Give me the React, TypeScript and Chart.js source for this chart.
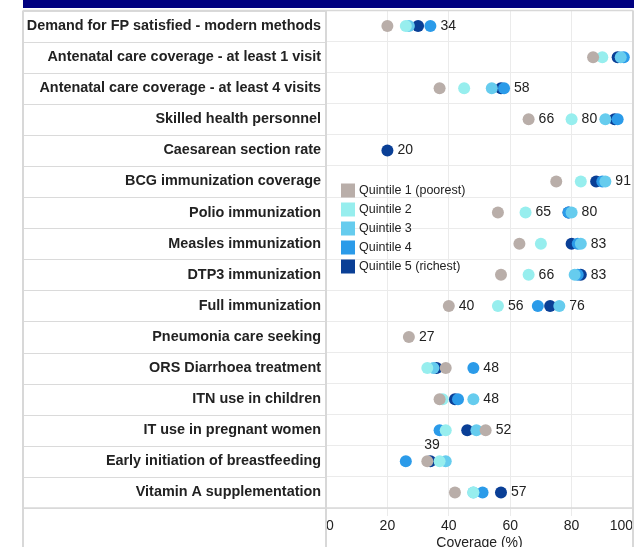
import React, { useEffect, useRef } from "react";
import { Chart, registerables } from "chart.js";

Chart.register(...registerables);

const categories = [
  "Demand for FP satisfied - modern methods",
  "Antenatal care coverage - at least 1 visit",
  "Antenatal care coverage - at least 4 visits",
  "Skilled health personnel",
  "Caesarean section rate",
  "BCG immunization coverage",
  "Polio immunization",
  "Measles immunization",
  "DTP3 immunization",
  "Full immunization",
  "Pneumonia care seeking",
  "ORS Diarrhoea treatment",
  "ITN use in children",
  "IT use in pregnant women",
  "Early initiation of breastfeeding",
  "Vitamin A supplementation",
];

const seriesNames = [
  "Quintile 1 (poorest)",
  "Quintile 2",
  "Quintile 3",
  "Quintile 4",
  "Quintile 5 (richest)",
];

const seriesColors = ["#b9aea9", "#97eeee", "#66ccee", "#2b9be9", "#0a3f96"];

const quintile1 = [20, 87, 37, 66, null, 75, 56, 63, 57, 40, 27, 39, 37, 52, 33, 42];
const quintile2 = [26, 90, 45, 80, null, 83, 65, 70, 66, 56, null, 33, 38, 39, 37, 48];
const quintile3 = [27, 96, 54, 91, null, 91, 80, 83, 81, 76, null, 35, 48, 49, 39, 48];
const quintile4 = [34, 97, 58, 95, null, 90, 79, 82, 82, 69, null, 48, 43, 37, 26, 51];
const quintile5 = [30, 95, 57, 94, 20, 88, 79, 80, 83, 73, null, 36, 42, 46, 34, 57];

const seriesValues = [quintile1, quintile2, quintile3, quintile4, quintile5];

const xTickValues = [0, 20, 40, 60, 80, 100];

// [row index, series index, placement]
const labelledPoints: [number, number, string][] = [
  [0, 3, "right"],
  [2, 3, "right"],
  [3, 0, "right"],
  [3, 1, "right"],
  [4, 4, "right"],
  [5, 2, "right"],
  [6, 1, "right"],
  [6, 2, "right"],
  [7, 2, "right"],
  [8, 1, "right"],
  [8, 4, "right"],
  [9, 0, "right"],
  [9, 1, "right"],
  [9, 2, "right"],
  [10, 0, "right"],
  [11, 3, "right"],
  [12, 2, "right"],
  [13, 0, "right"],
  [14, 2, "above"],
  [15, 4, "right"],
];

const FONT = "Arial, 'Liberation Sans', sans-serif";
const W = 641;
const H = 552;

export default function App() {
  const ref = useRef<HTMLCanvasElement>(null);

  useEffect(() => {
    document.body.style.margin = "0";
    const canvas = ref.current!;

    const decorPlugin = {
      id: "decor",
      beforeDatasetsDraw(chart: any) {
        const ctx = chart.ctx;
        const area = chart.chartArea;
        const yScale = chart.scales.y;
        const panelLeft = area.left - yScale.width + 1;
        const n = categories.length;
        const rowH = (area.bottom - area.top) / n;
        ctx.save();
        // navy top band
        ctx.fillStyle = "#000080";
        ctx.fillRect(panelLeft, 0, area.right + 1 - panelLeft, area.top - 2.5);
        // left panel row lines
        ctx.strokeStyle = "#dadada";
        ctx.lineWidth = 1;
        for (let i = 0; i <= n; i++) {
          const y = Math.round(area.top + i * rowH) + 0.5;
          ctx.beginPath();
          ctx.moveTo(panelLeft, y);
          ctx.lineTo(area.left, y);
          ctx.stroke();
        }
        // vertical borders
        ctx.lineWidth = 2;
        ctx.strokeStyle = "#d8d8d8";
        [panelLeft, area.left, area.right].forEach((x) => {
          ctx.beginPath();
          ctx.moveTo(x, area.top);
          ctx.lineTo(x, chart.height);
          ctx.stroke();
        });
        // top and bottom border
        ctx.lineWidth = 1.5;
        [area.top, area.bottom].forEach((y) => {
          ctx.beginPath();
          ctx.moveTo(panelLeft, y);
          ctx.lineTo(area.right, y);
          ctx.stroke();
        });
        ctx.restore();
      },
      afterDraw(chart: any) {
        const ctx = chart.ctx;
        const area = chart.chartArea;
        ctx.save();
        // value labels
        ctx.font = `14px ${FONT}`;
        ctx.fillStyle = "#222222";
        labelledPoints.forEach(([row, s, place]) => {
          const el = chart.getDatasetMeta(s).data[row];
          const v = seriesValues[s][row];
          if (!el || v == null) return;
          const txt = String(Math.round(v as number));
          if (place === "above") {
            ctx.textAlign = "right";
            ctx.textBaseline = "middle";
            ctx.fillText(txt, el.x - 6, el.y - 16);
          } else {
            ctx.textAlign = "left";
            ctx.textBaseline = "middle";
            ctx.fillText(txt, el.x + 10, el.y);
          }
        });
        // legend
        const lx = area.left + 15;
        const ly = area.top + 173;
        ctx.font = `12.5px ${FONT}`;
        ctx.textAlign = "left";
        ctx.textBaseline = "middle";
        seriesNames.forEach((name, i) => {
          const top = ly + i * 19;
          ctx.fillStyle = seriesColors[i];
          ctx.fillRect(lx, top, 14, 14);
          ctx.fillStyle = "#222222";
          ctx.fillText(name, lx + 18, top + 7.5);
        });
        ctx.restore();
      },
    };

    const chart = new Chart(canvas, {
      type: "line",
      data: {
        labels: categories,
        datasets: seriesNames.map((name, i) => ({
          label: name,
          data: seriesValues[i],
          showLine: false,
          pointRadius: 6,
          pointBorderWidth: 0,
          pointBackgroundColor: seriesColors[i],
          pointBorderColor: seriesColors[i],
          backgroundColor: seriesColors[i],
          borderColor: seriesColors[i],
        })),
      },
      options: {
        indexAxis: "y",
        responsive: false,
        animation: false,
        events: [],
        layout: { padding: { left: 22, top: 10.5, right: 8, bottom: 0 } },
        plugins: {
          legend: { display: false },
          tooltip: { enabled: false },
        },
        scales: {
          x: {
            type: "linear",
            min: 0,
            max: 100,
            afterBuildTicks(scale: any) {
              scale.ticks = xTickValues.map((v) => ({ value: v }));
            },
            afterFit(scale: any) {
              scale.height = 44;
              scale.paddingLeft = 0;
              scale.paddingRight = 0;
            },
            grid: { color: "#ebebeb", tickLength: 8, drawTicks: true },
            border: { display: false },
            ticks: {
              align: "inner",
              padding: 2,
              color: "#222222",
              font: { size: 14, family: FONT },
            },
            title: {
              display: true,
              text: "Coverage (%)",
              color: "#222222",
              font: { size: 14, family: FONT },
              padding: { top: 0, bottom: 0 },
            },
          },
          y: {
            type: "category",
            offset: true,
            afterFit(scale: any) {
              scale.width = 304;
              scale.paddingTop = 0;
              scale.paddingBottom = 0;
            },
            grid: { color: "#ebebeb", drawTicks: false, offset: true },
            border: { display: false },
            ticks: {
              padding: 5,
              color: "#222222",
              font: { size: 14.4, weight: "bold", family: FONT },
            },
          },
        },
      },
      plugins: [decorPlugin],
    } as any);

    return () => chart.destroy();
  }, []);

  return (
    <div style={{ width: W, height: 547, overflow: "hidden", position: "relative" }}>
      <canvas ref={ref} width={W} height={H} style={{ width: W, height: H, display: "block" }} />
    </div>
  );
}
